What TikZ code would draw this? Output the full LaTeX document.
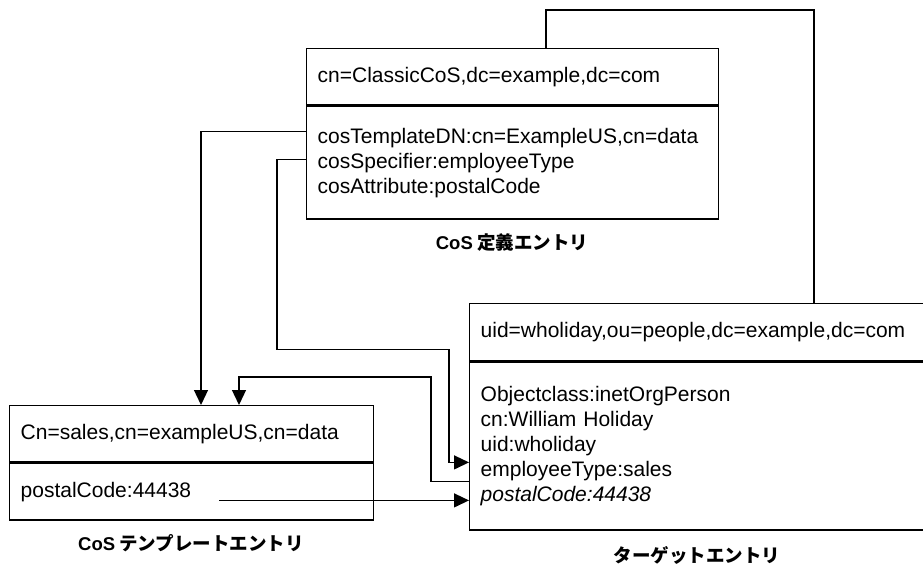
\documentclass[tikz,border=0pt]{standalone}
\usepackage{fontspec}
\setmainfont{Liberation Sans}
\newfontfamily\jpfont{Noto Sans CJK JP}
\usepackage{tikz}
\usetikzlibrary{arrows.meta, calc}

\tikzset{
	entry/.style={draw, line width=1.4pt, anchor=north west, inner xsep=11pt, inner ysep=0pt,
		align=left, font=\fontsize{21}{25}\selectfont},
	caption/.style={font=\jpfont\bfseries\fontsize{18.5}{20}\selectfont},
	conn/.style={line width=1.3pt},
	arr/.style={conn, -{Triangle[length=15pt, width=14pt]}}
}

\begin{document}
\begin{tikzpicture}[x=1pt, y=-1pt]
			\useasboundingbox (0,0) rectangle (923,564);
			
			% CoS definition entry
			\node[entry, text width=390pt, minimum height=56pt] (defhead) at (306,48) {cn=ClassicCoS,dc=example,dc=com};
			\node[entry, text width=390pt, minimum height=113pt] (defbody) at (defhead.south west)
				{cosTemplateDN:cn=ExampleUS,cn=data\\cosSpecifier:employeeType\\cosAttribute:postalCode};
			\node[caption] (deflabel) at (512,243) {\textrm{CoS} 定義エントリ};
			
			% CoS template entry
			\node[entry, text width=342pt, minimum height=56pt] (tmplhead) at (9,405) {Cn=sales,cn=exampleUS,cn=data};
			\node[entry, text width=342pt, minimum height=57pt] (tmplbody) at (tmplhead.south west) {postalCode:44438};
			\node[caption] (tmpllabel) at (191,543) {\textrm{CoS} テンプレートエントリ};
			
			% Target entry
			\node[entry, text width=434pt, minimum height=57pt] (tgthead) at (469,303) {uid=wholiday,ou=people,dc=example,dc=com};
			\node[entry, text width=434pt, minimum height=168pt] (tgtbody) at (tgthead.south west)
				{Objectclass:inetOrgPerson\\cn:William Holiday\\uid:wholiday\\employeeType:sales\\\textit{postalCode:44438}};
			\node[caption] (tgtlabel) at (697,555) {ターゲットエントリ};
			
			% Connectors
			\coordinate (tdn) at ($(defbody.north west)+(0,26)$);
			\coordinate (spec) at ($(defbody.north west)+(0,54)$);
			\coordinate (etype) at ($(tgtbody.north west)+(0,101)$);
			\coordinate (back) at ($(tgtbody.north west)+(0,120)$);
			\coordinate (pcode) at ($(tmplbody.north west)+(210,38)$);
			
			\draw[conn] ($(defhead.north west)+(240,0)$) -- ++(0,-38) -| ($(tgthead.north west)+(345,0)$);
			\draw[arr] (tdn) -| ($(tmplhead.north west)+(192,0)$);
			\draw[arr] (spec) -- ++(-29,0) -- ++(0,190) -| ($(etype)+(-20,0)$) -- (etype);
			\draw[arr] (back) -- ++(-38,0) |- ($(tmplhead.north west)+(230,-28)$) -- ($(tmplhead.north west)+(230,0)$);
			\draw[arr] (pcode) -- (pcode -| tgtbody.west);
		\end{tikzpicture}
\end{document}
